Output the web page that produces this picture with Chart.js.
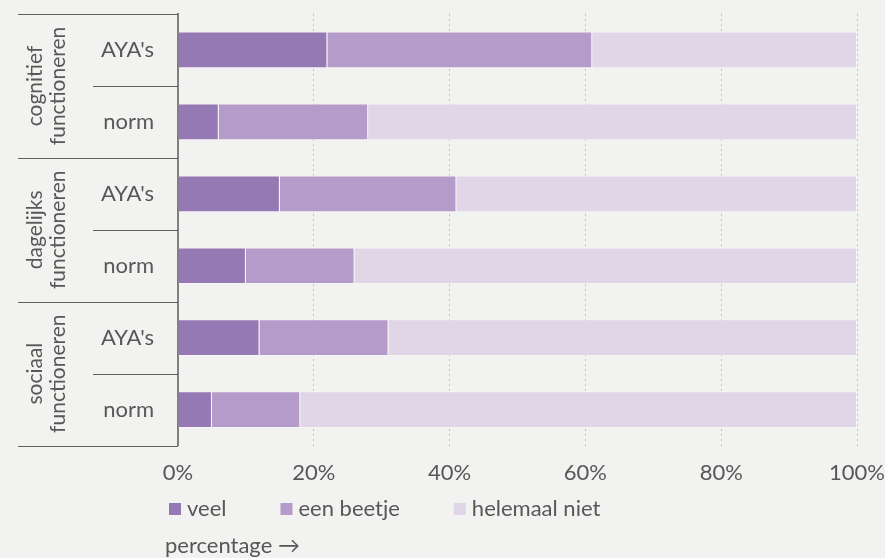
<!DOCTYPE html>
<html>
<head>
<meta charset="utf-8">
<script src="https://cdn.jsdelivr.net/npm/chart.js@4"></script>
<style>
  html, body { margin: 0; padding: 0; background: #f2f2f0; }
  #cadre { width: 885px; height: 558px; }
</style>
</head>
<body>
<div id="cadre"><canvas id="graphique-functioneren"></canvas></div>
<script>
// Données du graphique
const categories = ["AYA's", "norm", "AYA's", "norm", "AYA's", "norm"];
const groupes = [
  ["cognitief", "functioneren"],
  ["dagelijks", "functioneren"],
  ["sociaal", "functioneren"],
];
const veel = [22, 6, 15, 10, 12, 5];
const eenBeetje = [39, 22, 26, 16, 19, 13];
const helemaalNiet = [39, 72, 59, 74, 69, 82];
const xTicks = [0, 20, 40, 60, 80, 100];

const police = "Lato, 'Noto Sans', sans-serif";
const gris = "#575757";

// Lignes de séparation, étiquettes de groupe, légende et titre de l'axe
const decor = {
  id: "decor",
  afterDraw(chart) {
    const ctx = chart.ctx;
    const y = chart.scales.y;
    const area = chart.chartArea;
    const pas = y.getPixelForValue(1) - y.getPixelForValue(0);
    ctx.save();
    ctx.strokeStyle = "#606060";
    ctx.lineWidth = 1;
    for (let i = 0; i <= categories.length; i++) {
      const py = Math.round(y.getPixelForValue(i) - pas / 2) + 0.5;
      const x0 = i % 2 === 0 ? 18 : 93;
      ctx.beginPath();
      ctx.moveTo(x0, py);
      ctx.lineTo(area.left, py);
      ctx.stroke();
    }

    ctx.fillStyle = gris;
    ctx.font = "21px " + police;
    ctx.textAlign = "center";
    ctx.textBaseline = "middle";
    groupes.forEach((lignes, g) => {
      const cy = (y.getPixelForValue(2 * g) + y.getPixelForValue(2 * g + 1)) / 2;
      ctx.save();
      ctx.translate(46, cy);
      ctx.rotate(-Math.PI / 2);
      ctx.fillText(lignes[0], 0, -11);
      ctx.fillText(lignes[1], 0, 12);
      ctx.restore();
    });

    // Légende
    ctx.font = "22px " + police;
    let lx = 169;
    const ly = 509;
    ctx.textAlign = "left";
    chart.data.datasets.forEach((ds) => {
      ctx.fillStyle = ds.backgroundColor;
      ctx.fillRect(lx, ly - 6, 12, 12);
      ctx.fillStyle = gris;
      ctx.fillText(ds.label, lx + 18, ly);
      lx += 18 + ctx.measureText(ds.label).width + 54;
    });
    ctx.fillText("percentage \u2192", 165, 546);
    ctx.restore();
  },
};

const data = {
  labels: categories,
  datasets: [
    { label: "veel", data: veel, backgroundColor: "#9579b4" },
    { label: "een beetje", data: eenBeetje, backgroundColor: "#b49bca" },
    { label: "helemaal niet", data: helemaalNiet, backgroundColor: "#e1d5e8" },
  ],
};
data.datasets.forEach((ds) => {
  ds.borderColor = "rgba(255, 255, 255, 0.35)";
  ds.borderWidth = 1;
  ds.barPercentage = 0.51;
  ds.categoryPercentage = 1;
});

const config = {
  type: "bar",
  data: data,
  options: {
    indexAxis: "y",
    responsive: true,
    maintainAspectRatio: false,
    animation: false,
    layout: { padding: { top: 14, right: 25, bottom: 72, left: 0 } },
    plugins: { legend: { display: false }, tooltip: { enabled: false } },
    scales: {
      x: {
        stacked: true,
        min: 0,
        max: 100,
        afterBuildTicks: (scale) => {
          scale.ticks = xTicks.map((v) => ({ value: v }));
        },
        grid: { color: "#c4c4c4", drawTicks: true, tickLength: 14, tickColor: "transparent" },
        border: { display: false, dash: [2, 3] },
        ticks: {
          padding: 0,
          color: gris,
          font: { family: police, size: 22 },
          callback: (v) => v + "%",
        },
      },
      y: {
        stacked: true,
        afterFit: (scale) => {
          scale.width = 178;
        },
        grid: { display: false, drawTicks: true, tickLength: 24 },
        border: { display: true, color: "#808080", width: 2 },
        ticks: {
          padding: 0,
          color: gris,
          font: { family: police, size: 22 },
        },
      },
    },
  },
  plugins: [decor],
};

new Chart(document.querySelector("#graphique-functioneren"), config);
</script>
</body>
</html>
